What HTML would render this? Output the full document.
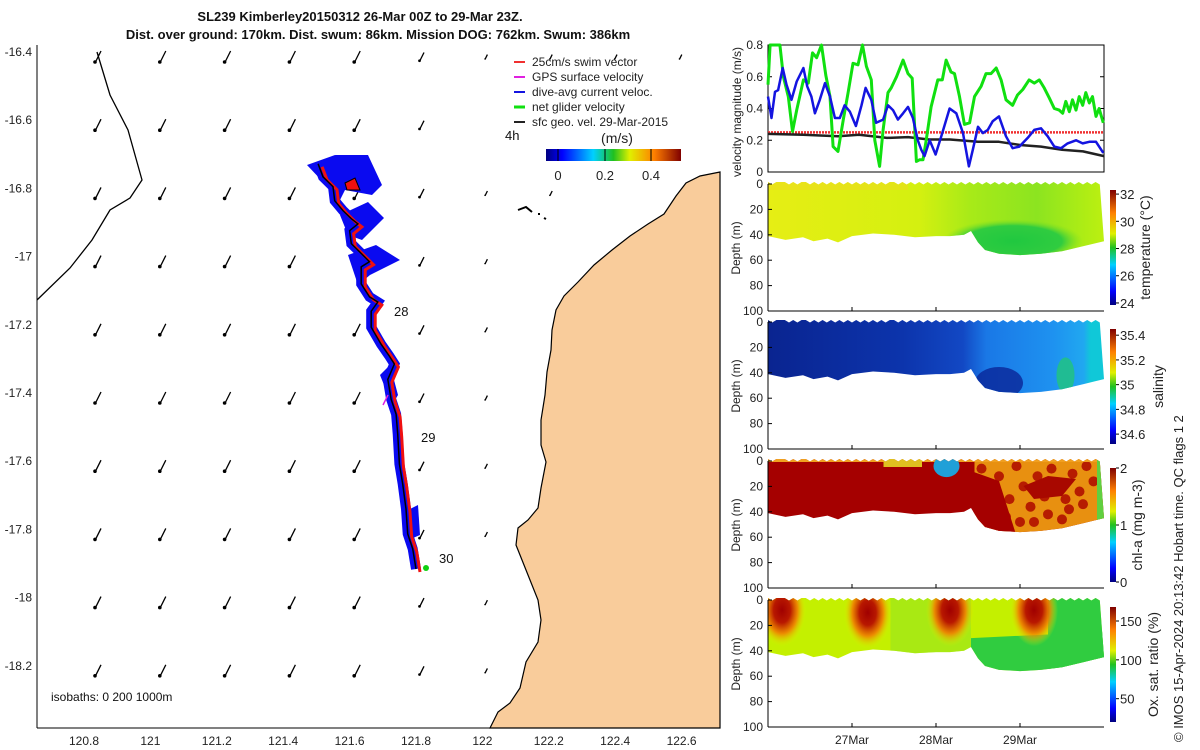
<!DOCTYPE html>
<html><head><meta charset="utf-8">
<style>
html,body{margin:0;padding:0;background:#fff;}
svg{display:block;font-family:"Liberation Sans",sans-serif;}
</style></head>
<body>
<svg id="fig" width="1200" height="750" viewBox="0 0 1200 750" xmlns="http://www.w3.org/2000/svg">
<defs>
<linearGradient id="jetH" x1="0" x2="1" y1="0" y2="0">
<stop offset="0" stop-color="#00007f"/><stop offset="0.12" stop-color="#0000ff"/><stop offset="0.35" stop-color="#00d0ff"/><stop offset="0.5" stop-color="#20c020"/><stop offset="0.62" stop-color="#e0f000"/><stop offset="0.8" stop-color="#ff8000"/><stop offset="1" stop-color="#7f0000"/>
</linearGradient>
<linearGradient id="jetV" x1="0" x2="0" y1="1" y2="0">
<stop offset="0" stop-color="#00007f"/><stop offset="0.12" stop-color="#0000ff"/><stop offset="0.35" stop-color="#00d0ff"/><stop offset="0.5" stop-color="#20c020"/><stop offset="0.62" stop-color="#e0f000"/><stop offset="0.8" stop-color="#ff8000"/><stop offset="1" stop-color="#7f0000"/>
</linearGradient>
<linearGradient id="gTemp" x1="0" x2="1"><stop offset="0" stop-color="#e6ee14"/><stop offset="0.45" stop-color="#d4f010"/><stop offset="0.6" stop-color="#a8ea18"/><stop offset="0.8" stop-color="#8ce420"/><stop offset="1" stop-color="#bcf010"/></linearGradient>
<linearGradient id="gSal" x1="0" x2="1"><stop offset="0" stop-color="#0a2490"/><stop offset="0.4" stop-color="#0c34ac"/><stop offset="0.58" stop-color="#1248c4"/><stop offset="0.65" stop-color="#1a78e6"/><stop offset="0.85" stop-color="#1e92f0"/><stop offset="0.94" stop-color="#20a8f0"/><stop offset="0.96" stop-color="#10c8d8"/><stop offset="1" stop-color="#10c8d8"/></linearGradient>
<radialGradient id="gBlob" cx="0.5" cy="0.5"><stop offset="0" stop-color="#a00000"/><stop offset="0.35" stop-color="#b81800"/><stop offset="0.65" stop-color="#f08000" stop-opacity="0.9"/><stop offset="1" stop-color="#e0f000" stop-opacity="0"/></radialGradient>
<radialGradient id="gGreen"><stop offset="0" stop-color="#20c840"/><stop offset="0.7" stop-color="#30cc40"/><stop offset="1" stop-color="#80e020" stop-opacity="0"/></radialGradient>
</defs>
<g id="map"></g>
<g id="right"></g>
</svg>
<script>
// ---- velocity series (hours since 26-Mar 00Z, m/s) ----
const greenT=[0,0.6,2,3.4,4.4,5.8,7,8.2,10.1,11.5,12.7,13.9,15.3,16.5,17.7,18.6,20,21.5,22.9,24.3,25.7,27,28.1,29.5,30.5,31.9,32.9,34.3,35.2,36.7,38.6,40,41.2,42.4,43.3,44.3,45.2,46.6,48.5,49.8,50.9,52.3,53.3,54.7,56.1,57.6,59,60.9,62.3,63.7,65.2,66.6,68,69.9,71.3,72.8,74.6,76.1,77.5,78.9,80.4,81.8,83.2,84.2,85.1,86.1,87,88,88.9,89.9,90.8,91.8,92.7,93.7,94.6,95.8];
const greenV=[0.55,0.8,0.8,0.8,0.6,0.475,0.255,0.39,0.58,0.56,0.75,0.72,0.8,0.61,0.475,0.16,0.13,0.33,0.5,0.685,0.675,0.8,0.665,0.58,0.2,0.035,0.265,0.5,0.53,0.6,0.705,0.62,0.59,0.067,0.077,0.077,0.2,0.41,0.58,0.58,0.705,0.63,0.62,0.475,0.3,0.31,0.475,0.54,0.62,0.62,0.655,0.58,0.455,0.42,0.485,0.52,0.58,0.56,0.58,0.53,0.465,0.4,0.39,0.37,0.445,0.38,0.455,0.39,0.475,0.42,0.5,0.435,0.475,0.35,0.4,0.31];
const blueT=[0,1,2,2.9,4.2,5.3,6.7,8.2,10.1,11.2,12.4,13.4,14.8,16.3,17.7,19.1,20.5,21.9,23.4,25.1,26.7,27.9,29.5,30.9,32.9,34.3,35.7,37.1,38.6,40,41.4,42.8,43.8,44.7,46.2,47.9,49.5,51.9,53.8,55.7,57.4,58.5,60,61.4,62.8,64.2,66,68,69.9,71.8,74.2,76.1,78,79.9,81.8,83.7,85.6,88,89.9,91.8,93.7,95.8];
const blueV=[0.475,0.34,0.505,0.515,0.655,0.55,0.455,0.57,0.655,0.54,0.475,0.37,0.455,0.56,0.475,0.34,0.34,0.42,0.38,0.29,0.42,0.53,0.455,0.31,0.33,0.42,0.39,0.33,0.37,0.41,0.34,0.2,0.14,0.1,0.2,0.11,0.225,0.4,0.37,0.245,0.035,0.14,0.285,0.245,0.265,0.32,0.35,0.225,0.15,0.16,0.215,0.265,0.275,0.225,0.16,0.15,0.18,0.2,0.18,0.19,0.19,0.12];
const blackT=[0,10,20,26,34,40,46,52,60,66,72,78,84,90,96];
const blackV=[0.24,0.235,0.225,0.235,0.215,0.22,0.205,0.205,0.19,0.19,0.17,0.16,0.14,0.13,0.1];
const swimV=0.25;
const velTicks=[0,0.2,0.4,0.6,0.8];
// ---- profile envelope (hours, max depth m) ----
const profT=[0,5,10,13,17,20,24,30,36,42,48,52,56,58,60,62,66,72,78,84,90,96];
const profD=[41,44,42,45,43,46,41,39,40,42,41,41,40,37,46,52,55,56,55,53,49,45];
const depthTicks=[0,20,40,60,80,100];
const dateTicks=[24,48,72];
const dateLabels=["27Mar","28Mar","29Mar"];
// colorbars
const tempTicks=[24,26,28,30,32], tempRange=[23.85,32.3];
const salTicks=[34.6,34.8,35,35.2,35.4], salRange=[34.52,35.45];
const chlTicks=[0,1,2], chlRange=[0,2];
const oxTicks=[50,100,150], oxRange=[20,168];
// map
const lonTicks=[120.8,121,121.2,121.4,121.6,121.8,122,122.2,122.4,122.6];
const latTicks=[-16.4,-16.6,-16.8,-17,-17.2,-17.4,-17.6,-17.8,-18,-18.2];
const trackLon=[121.505,121.52,121.55,121.555,121.58,121.605,121.625,121.6,121.605,121.63,121.66,121.635,121.635,121.66,121.685,121.665,121.665,121.695,121.72,121.735,121.715,121.725,121.74,121.745,121.75,121.76,121.77,121.775,121.79,121.8];
const trackLat=[-16.728,-16.766,-16.795,-16.836,-16.865,-16.889,-16.904,-16.924,-16.962,-16.986,-17.015,-17.03,-17.08,-17.118,-17.133,-17.16,-17.207,-17.257,-17.292,-17.315,-17.36,-17.418,-17.462,-17.52,-17.608,-17.667,-17.74,-17.813,-17.857,-17.916];

const NS="http://www.w3.org/2000/svg";
function mk(tag,attrs,parent,text){const e=document.createElementNS(NS,tag);for(const k in attrs)e.setAttribute(k,attrs[k]);if(text!==undefined)e.textContent=text;parent.appendChild(e);return e;}
const R=document.getElementById('right'), M=document.getElementById('map');
const X0=768,X1=1104;
const tx=h=>X0+h*(X1-X0)/96;
const vy=v=>172-v/0.8*127;
const panelTops=[184,322,461,600];
const dy=(top,d)=>top+d*1.27;

// ---------- velocity panel ----------
let frame=mk('rect',{x:X0,y:45,width:X1-X0,height:127,fill:'none',stroke:'#000','stroke-width':1},R);


velTicks.forEach(v=>{
  let t=mk('text',{x:763,y:vy(v)+4,'font-size':12,'text-anchor':'end',fill:'#222'},R,String(v));
  
  
  mk('line',{x1:X0,x2:X0+4,y1:vy(v),y2:vy(v),stroke:'#000'},R);
  mk('line',{x1:X1,x2:X1-4,y1:vy(v),y2:vy(v),stroke:'#000'},R);
});
let vt=mk('text',{transform:'translate(741,112) rotate(-90)','font-size':12,'text-anchor':'middle',fill:'#222'},R,'velocity magnitude (m/s)');


function line(T,V,color,w,name){
  const d=T.map((t,i)=>(i?'L':'M')+tx(t).toFixed(1)+','+vy(V[i]).toFixed(1)).join('');
  const p=mk('path',{d:d,fill:'none',stroke:color,'stroke-width':w,'stroke-linejoin':'round'},R);
  
  
}
let sw=mk('line',{x1:X0,x2:X1,y1:vy(swimV),y2:vy(swimV),stroke:'#f03030','stroke-width':2.5,'stroke-dasharray':'2,1'},R);


line(blackT,blackV,'#222',2.5,'sfc-geo-velocity-line');
line(greenT,greenV,'#10e010',3,'net-glider-velocity-line');
line(blueT,blueV,'#1414e0',2.5,'dive-avg-current-line');

// ---------- depth panels ----------
function envelopePath(top){
  let d='M'+tx(0)+','+dy(top,-1);
  for(let h=0;h<=96;h+=1.2){d+='L'+tx(h).toFixed(1)+','+(dy(top,0)-(h%2.4<1.2?2:-0.5)).toFixed(1);}
  for(let i=profT.length-1;i>=0;i--){d+='L'+tx(profT[i]).toFixed(1)+','+dy(top,profD[i]).toFixed(1);}
  return d+'Z';
}
const panelNames=['temperature','salinity','chlorophyll','oxygen'];
panelTops.forEach((top,pi)=>{
  const g=mk('g',{},R);
  
  
  const cid='clip'+pi;
  const cp=mk('clipPath',{id:cid},g);
  mk('path',{d:envelopePath(top)},cp);
  const c=mk('g',{'clip-path':'url(#'+cid+')'},g);
  const full={x:X0,y:top-4,width:X1-X0,height:80};
  if(pi===0){
    mk('rect',Object.assign({fill:'url(#gTemp)'},full),c);
    mk('rect',{x:tx(0),y:top-4,width:tx(40)-tx(0),height:10,fill:'#f0d820',opacity:0.5},c);
    mk('ellipse',{cx:tx(70),cy:dy(top,45),rx:70,ry:22,fill:'url(#gGreen)'},c);
  }else if(pi===1){
    mk('rect',Object.assign({fill:'url(#gSal)'},full),c);
    mk('ellipse',{cx:tx(66),cy:dy(top,48),rx:24,ry:16,fill:'#0a2a9c',opacity:0.85},c);
    mk('ellipse',{cx:tx(85),cy:dy(top,42),rx:9,ry:18,fill:'#20c088',opacity:0.9},c);
  }else if(pi===2){
    mk('rect',Object.assign({fill:'#a50000'},full),c);
    mk('rect',{x:tx(59),y:top-4,width:X1-tx(59),height:80,fill:'#e89010'},c);
    [[61,6],[64,22],[66,12],[69,30],[71,4],[73,20],[75,36],[77,12],[79,28],[81,6],[83,18],[85,30],[87,10],[89,24],[91,4],[93,16],[68,44],[72,48],[80,42],[86,38],[90,34],[63,34],[76,48],[84,46]].forEach(p=>{
      mk('circle',{cx:tx(p[0]),cy:dy(top,p[1]),r:5,fill:'#b01000',opacity:0.9},c);});
    mk('path',{d:'M'+tx(58)+','+(top+10)+'L'+tx(66)+','+(top+20)+'L'+tx(71)+','+(top+75)+'L'+tx(59)+','+(top+75)+'Z',fill:'#a50000'},c);
    mk('path',{d:'M'+tx(73)+','+(top+25)+'L'+tx(80)+','+(top+15)+'L'+tx(88)+','+(top+18)+'L'+tx(84)+','+(top+35)+'L'+tx(76)+','+(top+38)+'Z',fill:'#a80800'},c);
    mk('rect',{x:tx(0),y:top-4,width:X1-X0,height:5,fill:'#f0a020'},c);
    mk('rect',{x:tx(33),y:top-4,width:tx(44)-tx(33),height:10,fill:'#e0c020'},c);
    mk('ellipse',{cx:tx(51),cy:dy(top,4),rx:13,ry:11,fill:'#20a0d8'},c);
    mk('rect',{x:tx(94),y:top-4,width:12,height:80,fill:'#60d040'},c);
  }else{
    mk('rect',Object.assign({fill:'#c4f000'},full),c);
    mk('rect',{x:tx(35),y:top-4,width:tx(58)-tx(35),height:80,fill:'#98e420',opacity:0.6},c);
    mk('path',{d:'M'+tx(58)+','+dy(top,30)+'L'+X1+','+dy(top,25)+'L'+X1+','+dy(top,70)+'L'+tx(58)+','+dy(top,70)+'Z',fill:'#30cc40'},c);
    mk('rect',{x:tx(80),y:top-4,width:X1-tx(80),height:80,fill:'#30cc40'},c);
    [[4,8],[28.5,10],[52,8],[76,8]].forEach(p=>{
      mk('ellipse',{cx:tx(p[0]),cy:dy(top,p[1]),rx:24,ry:36,fill:'url(#gBlob)'},c);});
  }
  mk('line',{x1:X0,x2:X0,y1:top,y2:top+127,stroke:'#000'},g);
  mk('line',{x1:X0,x2:X1,y1:top+127,y2:top+127,stroke:'#000'},g);
  depthTicks.forEach(d=>{
    let t=mk('text',{x:763,y:dy(top,d)+4,'font-size':12,'text-anchor':'end',fill:'#222'},g,String(d));
    
    
    mk('line',{x1:X0,x2:X0+4,y1:dy(top,d),y2:dy(top,d),stroke:'#000'},g);
  });
  dateTicks.forEach(h=>mk('line',{x1:tx(h),x2:tx(h),y1:top+127,y2:top+123,stroke:'#000'},g));
  let yt=mk('text',{transform:'translate(740,'+(top+64)+') rotate(-90)','font-size':12,'text-anchor':'middle',fill:'#222'},g,'Depth (m)');
  
  
});
dateTicks.forEach((h,i)=>{
  let t=mk('text',{x:tx(h),y:744,'font-size':12,'text-anchor':'middle',fill:'#222'},R,dateLabels[i]);
  
  
});
// colorbars
const cbs=[[190,305,tempTicks,tempRange,'temperature (°C)',1150],[329,444,salTicks,salRange,'salinity',1163],[468,582,chlTicks,chlRange,'chl-a (mg m-3)',1142],[607,722,oxTicks,oxRange,'Ox. sat. ratio (%)',1158]];
cbs.forEach((cb,ci)=>{
  const [y0,y1,ticks,rng,title,tx0]=cb;
  let r=mk('rect',{x:1110,y:y0,width:6,height:y1-y0,fill:'url(#jetV)'},R);
  
  
  ticks.forEach(v=>{
    const y=y1-(v-rng[0])/(rng[1]-rng[0])*(y1-y0);
    mk('line',{x1:1116,x2:1119,y1:y,y2:y,stroke:'#000'},R);
    let t=mk('text',{x:1120,y:y+5,'font-size':13,fill:'#222'},R,String(v));
    
    
  });
  let tt=mk('text',{transform:'translate('+tx0+','+((y0+y1)/2)+') rotate(-90)','font-size':14,'text-anchor':'middle',fill:'#222'},R,title);
  
  
});
let cr=mk('text',{transform:'translate(1183,742) rotate(-90)','font-size':13,fill:'#222'},R,'© IMOS 15-Apr-2024 20:13:42 Hobart time. QC flags 1  2');



// ---------- map ----------
const lx=lon=>84+(lon-120.8)/0.2*66.4;
const ly=lat=>52+(-16.4-lat)/0.2*68.2;
let land=mk('path',{d:'M720,172 L700,176 L686,183 L676,196 L664,214 L648,224 L630,236 L612,250 L594,265 L578,282 L564,296 L556,310 L552,330 L551,350 L547,372 L545,395 L541,420 L541,445 L546,462 L541,488 L538,508 L528,520 L518,528 L516,545 L522,560 L530,580 L538,600 L541,620 L538,642 L526,662 L520,688 L510,703 L498,712 L490,728 L720,728 Z',fill:'#f9cc9b',stroke:'#000','stroke-width':1.2},M);


mk('path',{d:'M518,210 L526,207 L532,212 M538,214 l2,0 M544,218 l2,1',stroke:'#000','stroke-width':2,fill:'none'},M);
let lc=mk('path',{d:'M97,52 L110,95 L128,130 L142,180 L130,198 L110,210 L92,240 L70,268 L37,300',fill:'none',stroke:'#000','stroke-width':1.3},M);


// axes
mk('line',{x1:37,x2:720,y1:728,y2:728,stroke:'#000'},M);
mk('line',{x1:37,x2:37,y1:45,y2:728,stroke:'#000'},M);
lonTicks.forEach(v=>{
  let t=mk('text',{x:lx(v),y:745,'font-size':12,'text-anchor':'middle',fill:'#222'},M,String(v));
  
  
});
latTicks.forEach(v=>{
  let t=mk('text',{x:32,y:ly(v)+4,'font-size':12,'text-anchor':'end',fill:'#222'},M,String(v));
  
  
});
// vector grid
for(let i=0;i<10;i++){for(let j=0;j<10;j++){
  const x=97+j*64.8, y=ly(latTicks[i])+5;
  if(x>700)continue;
  if(i===1&&j>=6)continue;
  const landX=[700,700,600,560,552,545,545,545,535,520];
  if(x>landX[i]-10)continue;
  const s=(j>=6)?0.4:(j==5?0.75:1);
  mk('line',{x1:x+4*s,y1:y-6*s,x2:x-2*s,y2:y+6*s,stroke:'#000','stroke-width':1.3},M);
  let a=mk('circle',{cx:x-2*s,cy:y+5*s,r:1.8*s,fill:'#000'},M);
  
  
}}
// track
const tp=trackLon.map((v,i)=>(i?'L':'M')+lx(v).toFixed(1)+','+ly(trackLat[i]).toFixed(1)).join('');
let tb=mk('path',{d:tp,fill:'none',stroke:'#0a0af0','stroke-width':10,'stroke-linejoin':'miter'},M);


mk('polygon',{points:'307,165 335,155 350,180 340,200',fill:'#0a0af0'},M);
mk('polygon',{points:'335,155 368,155 382,185 372,195 345,190',fill:'#0a0af0'},M);
mk('polygon',{points:'340,215 368,202 384,218 362,240 348,235',fill:'#0a0af0'},M);
mk('polygon',{points:'348,255 376,245 400,260 370,275 358,285',fill:'#0a0af0'},M);
mk('polygon',{points:'380,375 390,365 398,395 392,405',fill:'#0a0af0'},M);
mk('polygon',{points:'408,510 418,505 420,535 413,538',fill:'#0a0af0'},M);
let tr=mk('path',{d:tp,fill:'none',stroke:'#f01010','stroke-width':3,transform:'translate(4,3)'},M);


let tk=mk('path',{d:tp,fill:'none',stroke:'#000','stroke-width':1.5},M);


mk('polygon',{points:'345,183 355,178 360,190 347,190',fill:'#f01010',stroke:'#000'},M);
mk('line',{x1:388,y1:395,x2:383,y2:405,stroke:'#e020e0','stroke-width':1.5},M);
mk('circle',{cx:426,cy:568,r:3,fill:'#10d010'},M);
[['28',394,316],['29',421,442],['30',439,563],['4h',505,140]].forEach(l=>{
  let t=mk('text',{x:l[1],y:l[2],'font-size':13,fill:'#111'},M,l[0]);
  
  
});
// legend
const legItems=[['25cm/s swim vector','#f03030'],['GPS surface velocity','#e020e0'],['dive-avg current veloc.','#1414e0'],['net glider velocity','#10e010'],['sfc geo. vel. 29-Mar-2015','#222']];
legItems.forEach((it,i)=>{
  const y=62+i*15;
  let lg=mk('g',{},M);
  
  
  mk('line',{x1:514,x2:525,y1:y,y2:y,stroke:it[1],'stroke-width':i==3?3:2},lg);
  mk('text',{x:532,y:y+4,'font-size':12,fill:'#222'},lg,it[0]);
});
let mcb=mk('rect',{x:546,y:149,width:135,height:12,fill:'url(#jetH)'},M);


mk('text',{x:617,y:143,'font-size':14,'text-anchor':'middle',fill:'#222'},M,'(m/s)');
[[0,558],[0.2,605],[0.4,651]].forEach(v=>{mk('line',{x1:v[1],x2:v[1],y1:149,y2:161,stroke:'#000'},M);mk('text',{x:v[1],y:180,'font-size':13,'text-anchor':'middle',fill:'#222'},M,String(v[0]));});
let iso=mk('text',{x:51,y:701,'font-size':12,fill:'#111'},M,'isobaths: 0   200  1000m');


let t1=mk('text',{x:360,y:21,'font-size':13,'font-weight':'bold','text-anchor':'middle',fill:'#111'},M,'SL239 Kimberley20150312 26-Mar 00Z to 29-Mar 23Z.');


let t2=mk('text',{x:378,y:39,'font-size':13,'font-weight':'bold','text-anchor':'middle',fill:'#111'},M,'Dist. over ground: 170km. Dist. swum: 86km. Mission DOG: 762km. Swum: 386km');


</script>
</body></html>
